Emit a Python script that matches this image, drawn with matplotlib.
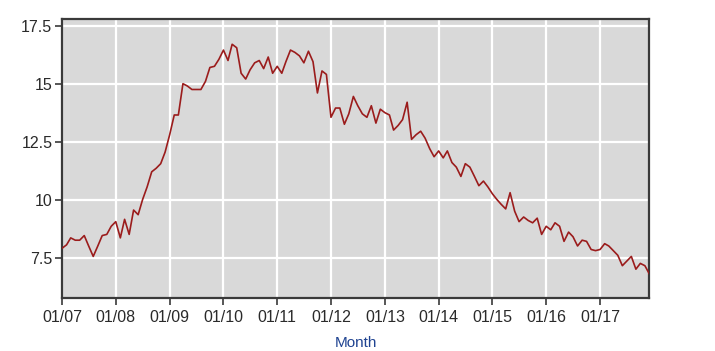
import matplotlib
matplotlib.use("Agg")
import matplotlib.pyplot as plt
import matplotlib.dates as mdates
import pandas as pd

start_month = "2007-01-01"
rate = [
    # 2007
    7.9, 8.05, 8.35, 8.25, 8.25, 8.45, 8.0, 7.55, 8.0, 8.45, 8.5, 8.85,
    # 2008
    9.05, 8.35, 9.15, 8.5, 9.55, 9.35, 10.0, 10.55, 11.2, 11.35, 11.55, 12.05,
    # 2009
    12.8, 13.65, 13.65, 15.0, 14.9, 14.75, 14.75, 14.75, 15.1, 15.7, 15.75, 16.05,
    # 2010
    16.45, 16.0, 16.7, 16.55, 15.45, 15.2, 15.6, 15.9, 16.0, 15.65, 16.15, 15.45,
    # 2011
    15.75, 15.45, 15.95, 16.45, 16.35, 16.2, 15.9, 16.4, 15.95, 14.6, 15.55, 15.4,
    # 2012
    13.55, 13.95, 13.95, 13.25, 13.7, 14.45, 14.05, 13.7, 13.55, 14.05, 13.3, 13.9,
    # 2013
    13.75, 13.65, 13.0, 13.2, 13.45, 14.2, 12.6, 12.8, 12.95, 12.65, 12.2, 11.85,
    # 2014
    12.1, 11.8, 12.1, 11.6, 11.4, 11.0, 11.55, 11.4, 11.0, 10.6, 10.8, 10.55,
    # 2015
    10.25, 10.0, 9.8, 9.6, 10.3, 9.5, 9.05, 9.25, 9.1, 9.0, 9.2, 8.5,
    # 2016
    8.85, 8.7, 9.0, 8.85, 8.2, 8.6, 8.4, 8.0, 8.25, 8.2, 7.85, 7.8,
    # 2017
    7.85, 8.1, 8.0, 7.8, 7.6, 7.15, 7.35, 7.55, 7.0, 7.25, 7.15, 6.8,
]
y_ticks = [7.5, 10, 12.5, 15, 17.5]
y_tick_labels = ["7.5", "10", "12.5", "15", "17.5"]
x_label = "Month"

months = pd.date_range(start_month, periods=len(rate), freq="MS")

plt.rcParams["font.family"] = ["Liberation Sans", "DejaVu Sans"]

fig = plt.figure(figsize=(7.15, 3.51), dpi=100)
ax = fig.add_axes([62 / 715, 1 - 297.7 / 351, (649.3 - 62) / 715, (297.7 - 19) / 351])
ax.set_facecolor("#d9d9d9")

ax.plot(months, rate, color="#9b1c1c", linewidth=1.2, zorder=3)

ax.set_xlim(months[0], months[-1])
ax.set_ylim(5.77, 17.79)

year_ticks = pd.date_range(start_month, months[-1], freq="YS")
ax.set_xticks(year_ticks)
ax.xaxis.set_major_formatter(mdates.DateFormatter("%m/%y"))
ax.set_yticks(y_ticks)
ax.set_yticklabels(y_tick_labels)

ax.grid(True, color="white", linewidth=1.6, zorder=1)
ax.set_axisbelow(True)

for s in ax.spines.values():
    s.set_color("#3a3a3a")
    s.set_linewidth(1.6)

ax.tick_params(axis="both", colors="#3a3a3a", labelcolor="#2a2a2a",
               labelsize=11.5, length=5, width=1.2, direction="out")
ax.tick_params(axis="x", pad=4)
ax.tick_params(axis="y", pad=2)

ax.set_xlabel(x_label, color="#1f4391", fontsize=11, labelpad=8)

fig.savefig("out.png", dpi=100)
